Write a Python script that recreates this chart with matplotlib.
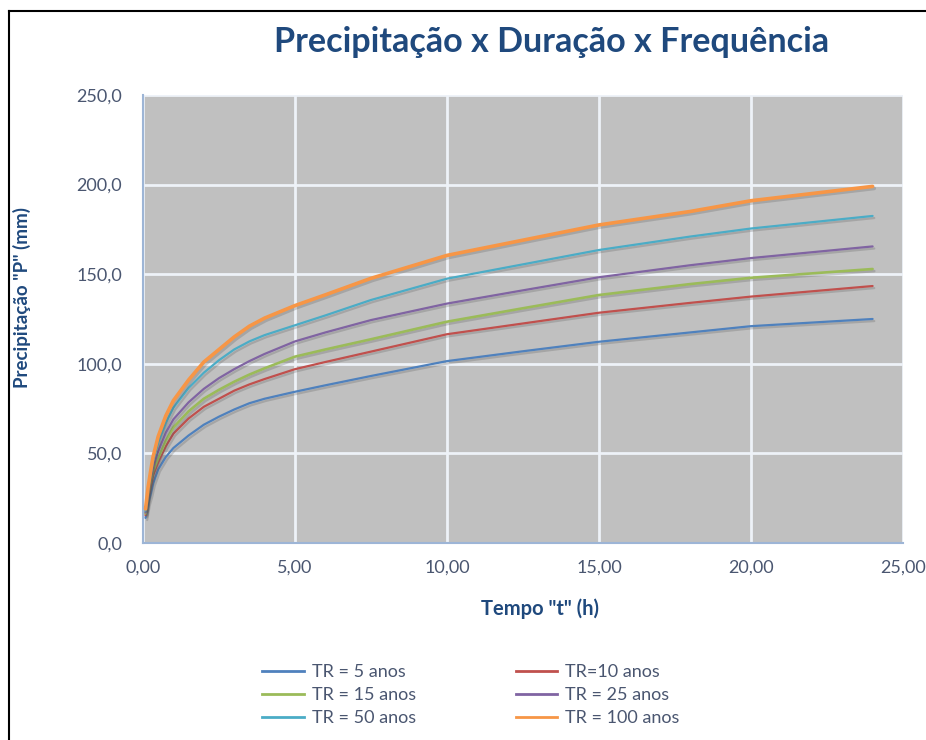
import numpy as np
import matplotlib.pyplot as plt
import matplotlib.patheffects as pe
from matplotlib.ticker import FuncFormatter, MultipleLocator
from matplotlib.lines import Line2D

plt.rcParams['font.family'] = ['Lato', 'DejaVu Sans']

# duracao (h)
tempo = [0.083, 0.167, 0.25, 0.33, 0.5, 0.75, 1, 1.5, 2, 2.5, 3, 3.5, 4, 5, 6, 7.5, 10, 12.5, 15, 18, 20, 24]

# precipitacao (mm) para cada tempo de retorno
p_tr5 = [14.0, 22.0, 27.0, 33.0, 41.0, 48.0, 53.0, 60.0, 66.0, 70.5, 74.5, 78.0, 80.5,
         84.4, 88.0, 93.2, 101.5, 107.0, 112.3, 117.5, 121.0, 125.0]
p_tr10 = [15.5, 25.0, 31.5, 37.5, 45.0, 54.0, 61.0, 69.5, 76.0, 80.5, 85.0, 88.5, 91.5,
          97.0, 101.0, 106.8, 116.5, 122.5, 128.5, 134.0, 137.5, 143.4]
p_tr15 = [16.5, 27.0, 34.0, 40.0, 47.5, 57.0, 64.5, 73.5, 80.5, 85.5, 90.0, 94.0, 97.5,
          104.0, 108.0, 113.7, 123.5, 131.0, 138.4, 144.5, 148.0, 152.9]
p_tr25 = [17.0, 28.0, 36.0, 42.5, 51.0, 61.5, 69.0, 78.5, 86.0, 92.0, 97.0, 101.5, 105.5,
          112.5, 117.5, 124.4, 133.6, 141.0, 148.3, 155.0, 159.0, 165.5]
p_tr50 = [18.0, 29.5, 38.0, 45.5, 56.0, 67.0, 75.5, 86.5, 95.0, 102.0, 108.0, 112.5, 116.0,
          121.5, 127.0, 135.6, 147.5, 155.5, 163.5, 171.0, 175.5, 182.5]
p_tr100 = [19.0, 31.0, 40.0, 48.0, 59.5, 71.0, 79.5, 91.0, 101.0, 108.0, 115.0, 121.0, 125.5,
           132.5, 138.5, 147.7, 160.5, 169.0, 177.5, 185.0, 191.0, 199.0]

series = [
    ("TR = 5 anos", p_tr5, "#4F81BD", 1.6),
    ("TR=10 anos", p_tr10, "#C0504D", 1.6),
    ("TR = 15 anos", p_tr15, "#9BBB59", 1.9),
    ("TR = 25 anos", p_tr25, "#8064A2", 1.6),
    ("TR = 50 anos", p_tr50, "#4BACC6", 1.6),
    ("TR = 100 anos", p_tr100, "#F79646", 2.6),
]

text_col = "#4A5670"
title_col = "#1F497D"

fig = plt.figure(figsize=(9.26, 7.4), dpi=100)
ax = fig.add_axes([143 / 926, 1 - 543 / 740, 760 / 926, 448 / 740])
ax.set_facecolor("#C0C0C0")

shadow = [pe.SimpleLineShadow(offset=(1.2, -1.5), alpha=0.25, shadow_color="#555555"), pe.Normal()]
handles = {}
for label, vals, color, lw in series:
    ax.plot(tempo, vals, color=color, lw=lw, solid_capstyle="round", solid_joinstyle="round",
            path_effects=shadow, zorder=3)
    handles[label] = Line2D([], [], color=color, lw=2)

ax.set_xlim(0, 25)
ax.set_ylim(0, 250)
ax.xaxis.set_major_locator(MultipleLocator(5))
ax.yaxis.set_major_locator(MultipleLocator(50))
ax.xaxis.set_major_formatter(FuncFormatter(lambda v, p: ("%.2f" % v).replace(".", ",")))
ax.yaxis.set_major_formatter(FuncFormatter(lambda v, p: ("%.1f" % v).replace(".", ",")))
ax.grid(True, color="#EEF2F8", lw=2)
ax.set_axisbelow(True)
ax.tick_params(length=0, labelsize=13, colors=text_col)
ax.tick_params(axis="y", pad=15)
ax.tick_params(axis="x", pad=12)
for s in ["top", "right"]:
    ax.spines[s].set_visible(False)
for s in ["left", "bottom"]:
    ax.spines[s].set_color("#9DB5D6")
    ax.spines[s].set_linewidth(1.5)

fig.text(552 / 926, 1 - 42 / 740, "Precipitação x Duração x Frequência", ha="center", va="center",
         fontsize=24.6, fontweight="bold", color=title_col)
fig.text(540 / 926, 1 - 609 / 740, 'Tempo "t" (h)', ha="center", va="center",
         fontsize=14.5, fontweight="bold", color=title_col)
fig.text(22 / 926, 1 - 297 / 740, 'Precipitação "P" (mm)', ha="center", va="center", rotation=90,
         fontsize=13.5, fontweight="bold", color=title_col)

# legenda preenchida por linhas: 5, 10 / 15, 25 / 50, 100
order = ["TR = 5 anos", "TR = 15 anos", "TR = 50 anos", "TR=10 anos", "TR = 25 anos", "TR = 100 anos"]
leg = fig.legend([handles[k] for k in order], order, ncol=2, loc="center",
                 bbox_to_anchor=(471 / 926, 1 - 695 / 740), frameon=False, fontsize=13,
                 handlelength=2.3, handletextpad=0.45, columnspacing=5.5, labelspacing=0.38)
for t in leg.get_texts():
    t.set_color(text_col)

# moldura externa
fig.add_artist(Line2D([9 / 926, 9 / 926], [0, 1 - 11 / 740], color="black", lw=1.5))
fig.add_artist(Line2D([9 / 926, 1], [1 - 11 / 740, 1 - 11 / 740], color="black", lw=1.5))

fig.savefig("out.png", dpi=100, facecolor="white")
